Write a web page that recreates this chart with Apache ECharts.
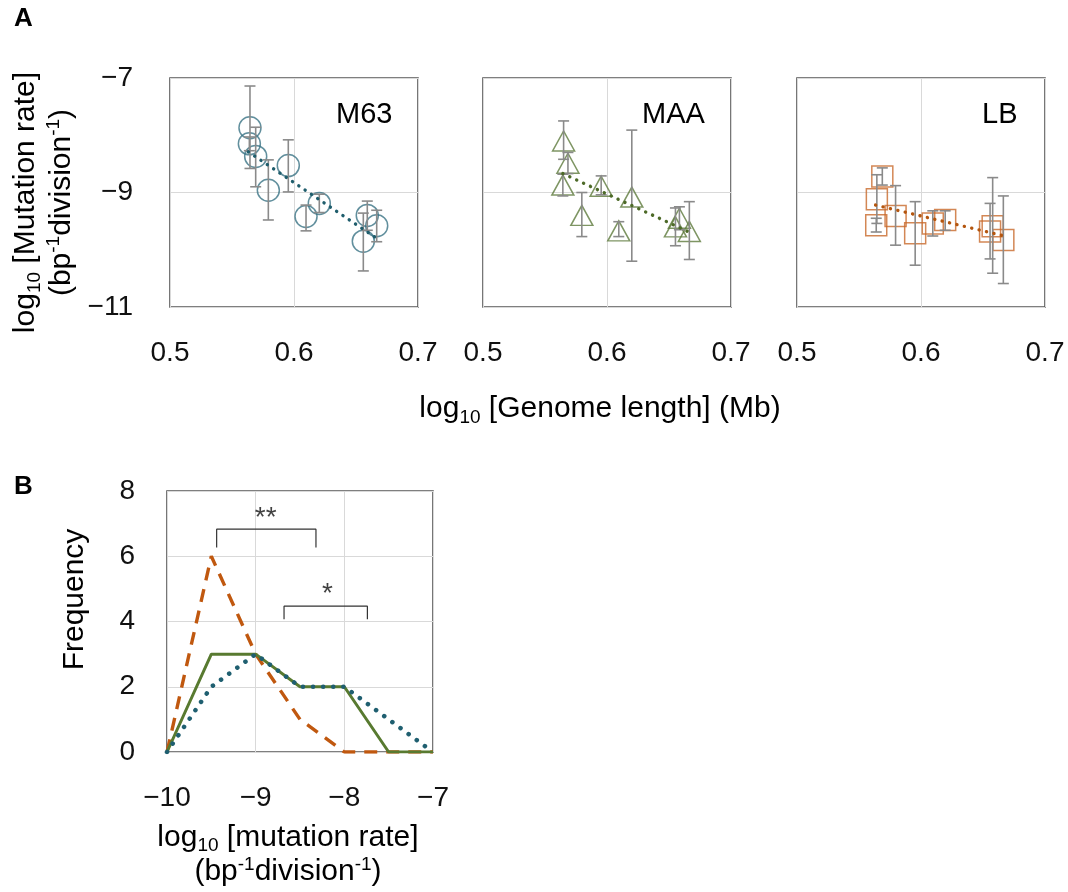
<!DOCTYPE html>
<html>
<head>
<meta charset="utf-8">
<script src="https://cdn.jsdelivr.net/npm/echarts@6/dist/echarts.min.js"></script>
<style>
  html, body { margin: 0; padding: 0; background: #fff; }
  #main { width: 1068px; height: 892px; }
</style>
</head>
<body>
<div id="main"></div>
<script>
// ---- panel A : genome length vs mutation rate ----
var m63X  = [0.5645, 0.5640, 0.5691, 0.5793, 0.5954, 0.6097, 0.6204, 0.6591, 0.6667, 0.6559];
var m63Y  = [-7.87, -8.15, -8.37, -8.96, -8.53, -9.42, -9.19, -9.40, -9.58, -9.85];
var m63Lo = [-8.58, -8.27, -8.90, -9.48, -8.99, -9.67, -9.35, -9.66, -9.86, -10.37];
var m63Hi = [-7.14, -8.03, -7.86, -8.43, -8.08, -9.22, -9.03, -9.15, -9.31, -9.36];
var m63Trend = [[0.5632, -8.29], [0.6667, -9.80]];

var maaX  = [0.5650, 0.5685, 0.5644, 0.5797, 0.5953, 0.6095, 0.6200, 0.6584, 0.6552, 0.6664];
var maaY  = [-8.10, -8.49, -8.87, -9.40, -8.89, -9.67, -9.08, -9.45, -9.60, -9.68];
var maaLo = [-8.42, -8.67, -9.06, -9.77, -9.04, -9.77, -10.20, -9.65, -9.93, -10.17];
var maaHi = [-7.75, -8.30, -8.68, -9.00, -8.71, -9.51, -7.91, -9.25, -9.27, -9.16];
var maaTrend = [[0.5644, -8.67], [0.6651, -9.68]];

var lbX  = [0.5688, 0.5644, 0.5639, 0.5795, 0.5953, 0.6095, 0.6195, 0.6578, 0.6557, 0.6664];
var lbY  = [-8.72, -9.12, -9.57, -9.41, -9.71, -9.54, -9.48, -9.59, -9.68, -9.83];
var lbLo = [-8.87, -9.54, -9.69, -9.92, -10.27, -9.76, -9.66, -10.41, -10.16, -10.59];
var lbHi = [-8.57, -8.69, -9.45, -8.88, -9.16, -9.32, -9.32, -8.74, -9.19, -9.06];
var lbTrend = [[0.5634, -9.22], [0.6654, -9.75]];

var panelNames = ['M63', 'MAA', 'LB'];
var genomeTicks = [0.5, 0.6, 0.7];
var rateTicksA = [-11, -9, -7];

// ---- panel B : histogram of mutation rates ----
var binX    = [-10, -9.5, -9, -8.5, -8, -7.5, -7];
var freqLB  = [0, 6, 3, 1, 0, 0, 0];
var freqMAA = [0, 3, 3, 2, 2, 0, 0];
var freqM63 = [0, 2, 3, 2, 2, 1, 0];
var bracketTwo = [[-9.44, 6.27], [-9.44, 6.83], [-8.32, 6.83], [-8.32, 6.27]];
var bracketOne = [[-8.68, 4.07], [-8.68, 4.47], [-7.74, 4.47], [-7.74, 4.07]];
var starsTwo = [-8.887, 7.15];
var starsOne = [-8.19, 4.83];

var FONT = '"Liberation Sans", Arial, sans-serif';
var richName = {
  t: { fontFamily: FONT, fontSize: 30, lineHeight: 36, color: '#000' },
  s: { fontFamily: FONT, fontSize: 19, lineHeight: 20, verticalAlign: 'bottom', color: '#000' },
  p: { fontFamily: FONT, fontSize: 19, lineHeight: 22, verticalAlign: 'top', color: '#000' }
};
var unitLine = '{t|(bp}{p|-1}{t|division}{p|-1}{t|)}';

function minus(v) {
  return (v < 0 ? '\u2212' : '') + Math.abs(v);
}

function errorBar(params, api) {
  var x = api.value(0);
  var top = api.coord([x, api.value(2)]);
  var bot = api.coord([x, api.value(1)]);
  var hw = 5.5;
  var st = { stroke: '#8a8a8a', lineWidth: 1.6 };
  return {
    type: 'group',
    children: [
      { type: 'line', shape: { x1: top[0], y1: top[1], x2: bot[0], y2: bot[1] }, style: st },
      { type: 'line', shape: { x1: top[0] - hw, y1: top[1], x2: top[0] + hw, y2: top[1] }, style: st },
      { type: 'line', shape: { x1: bot[0] - hw, y1: bot[1], x2: bot[0] + hw, y2: bot[1] }, style: st }
    ]
  };
}

var gridA = [
  { left: 170, top: 78, width: 248, height: 229 },
  { left: 483, top: 78, width: 248, height: 229 },
  { left: 797, top: 78, width: 248, height: 229 }
];

var grids = [];
var xAxes = [];
var yAxes = [];
gridA.forEach(function (g, i) {
  grids.push(Object.assign({ show: true, borderColor: '#555', borderWidth: 1.6, backgroundColor: 'transparent' }, g));
  xAxes.push({
    type: 'value', gridIndex: i,
    min: genomeTicks[0], max: genomeTicks[2], interval: 0.1,
    axisLine: { show: false }, axisTick: { show: false },
    splitLine: { lineStyle: { color: '#d9d9d9', width: 1 } },
    axisLabel: {
      margin: 32, fontFamily: FONT, fontSize: 28, lineHeight: 28, color: '#111',
      formatter: function (v) { return v.toFixed(1); }
    },
    name: i === 1 ? '{t|log}{s|10}{t| [Genome length] (Mb)}' : '',
    nameLocation: 'middle', nameGap: 84,
    nameTextStyle: { padding: [0, 14, 0, 0], rich: richName }
  });
  yAxes.push({
    type: 'value', gridIndex: i,
    min: rateTicksA[0], max: rateTicksA[2], interval: 2,
    axisLine: { show: false }, axisTick: { show: false },
    splitLine: { lineStyle: { color: '#d9d9d9', width: 1 } },
    axisLabel: {
      show: i === 0, margin: 37, fontFamily: FONT, fontSize: 28, color: '#111',
      formatter: minus
    },
    name: i === 0 ? '{t|log}{s|10}{t| [Mutation rate]}\n' + unitLine : '',
    nameLocation: 'middle', nameGap: 90, nameRotate: 90,
    nameTextStyle: { padding: [0, 20, 0, 0], rich: richName }
  });
});

grids.push({ left: 167, top: 491, width: 266, height: 261, show: true, borderColor: '#555', borderWidth: 1.6 });
xAxes.push({
  type: 'value', gridIndex: 3, min: -10, max: -7, interval: 1,
  axisLine: { show: false }, axisTick: { show: false },
  splitLine: { lineStyle: { color: '#d9d9d9', width: 1 } },
  axisLabel: { margin: 32, fontFamily: FONT, fontSize: 28, lineHeight: 28, color: '#111', formatter: minus },
  name: '{t|log}{s|10}{t| [mutation rate]}\n' + unitLine,
  nameLocation: 'middle', nameGap: 69,
  nameTextStyle: { padding: [0, 24, 0, 0], lineHeight: 34, rich: {
    t: { fontFamily: FONT, fontSize: 30, lineHeight: 34, color: '#000' },
    s: richName.s, p: richName.p
  } }
});
yAxes.push({
  type: 'value', gridIndex: 3, min: 0, max: 8, interval: 2,
  axisLine: { show: false }, axisTick: { show: false },
  splitLine: { lineStyle: { color: '#d9d9d9', width: 1 } },
  axisLabel: { margin: 32, fontFamily: FONT, fontSize: 28, color: '#111' },
  name: 'Frequency', nameLocation: 'middle', nameGap: 74, nameRotate: 90,
  nameTextStyle: { fontFamily: FONT, fontSize: 30, lineHeight: 36, color: '#000', padding: [0, 0, 0, 44] }
});

function rows(xs, a, b) {
  return xs.map(function (x, i) { return b ? [x, a[i], b[i]] : [x, a[i]]; });
}

var groupsA = [
  { x: m63X, y: m63Y, lo: m63Lo, hi: m63Hi, trend: m63Trend, symbol: 'circle', size: 22, color: '#3a7384', dark: '#1f5d6c' },
  { x: maaX, y: maaY, lo: maaLo, hi: maaHi, trend: maaTrend, symbol: 'triangle', size: [22, 20], color: '#5e7b3c', dark: '#4d6a28' },
  { x: lbX, y: lbY, lo: lbLo, hi: lbHi, trend: lbTrend, symbol: 'rect', size: 21, color: '#c8692a', dark: '#b4560f' }
];

var series = [];
groupsA.forEach(function (g, i) {
  series.push({
    type: 'scatter', xAxisIndex: i, yAxisIndex: i,
    data: rows(g.x, g.y), symbol: g.symbol, symbolSize: g.size,
    itemStyle: { color: 'transparent', borderColor: g.color, borderWidth: 1.5 }, z: 2
  });
  series.push({
    type: 'custom', xAxisIndex: i, yAxisIndex: i,
    data: rows(g.x, g.lo, g.hi), renderItem: errorBar,
    encode: { x: 0, y: [1, 2] }, z: 3
  });
  series.push({
    type: 'line', xAxisIndex: i, yAxisIndex: i, data: g.trend, showSymbol: false,
    lineStyle: { color: g.dark, width: 3.4, type: [0.1, 7.5], cap: 'round' }, z: 4
  });
});

series.push({
  type: 'line', xAxisIndex: 3, yAxisIndex: 3, data: rows(binX, freqLB), showSymbol: false,
  lineStyle: { color: '#c0580f', width: 3.4, type: [13, 9] }
});
series.push({
  type: 'line', xAxisIndex: 3, yAxisIndex: 3, data: rows(binX, freqMAA), showSymbol: false,
  lineStyle: { color: '#587a30', width: 3 }
});
series.push({
  type: 'line', xAxisIndex: 3, yAxisIndex: 3, data: rows(binX, freqM63), showSymbol: false,
  lineStyle: { color: '#1f5f70', width: 4.5, type: [0.1, 10], cap: 'round' }
});
[bracketTwo, bracketOne].forEach(function (b) {
  series.push({
    type: 'line', xAxisIndex: 3, yAxisIndex: 3, data: b, showSymbol: false,
    lineStyle: { color: '#333', width: 1.2 }
  });
});
series.push({
  type: 'scatter', xAxisIndex: 3, yAxisIndex: 3, symbol: 'circle', symbolSize: 2,
  itemStyle: { color: 'transparent' },
  data: [
    { value: starsTwo, label: { formatter: '**' } },
    { value: starsOne, label: { formatter: '*' } }
  ],
  label: { show: true, position: 'inside', fontFamily: FONT, fontSize: 28, color: '#111' },
  z: 5
});

var titles = [
  { text: 'A', left: 14, top: 6 },
  { text: 'B', left: 14, top: 474 },
  { text: panelNames[0], left: 336, top: 100, bold: false },
  { text: panelNames[1], left: 642, top: 100, bold: false },
  { text: panelNames[2], left: 982, top: 100, bold: false }
].map(function (t) {
  return {
    text: t.text, left: t.left, top: t.top, padding: 0,
    textStyle: { fontFamily: FONT, fontSize: t.bold === false ? 29 : 26, fontWeight: t.bold === false ? 'normal' : 'bold', color: '#000' }
  };
});

var chart = echarts.init(document.getElementById('main'));
chart.setOption({
  animation: false,
  backgroundColor: '#fff',
  title: titles,
  grid: grids,
  xAxis: xAxes,
  yAxis: yAxes,
  series: series
});
</script>
</body>
</html>
